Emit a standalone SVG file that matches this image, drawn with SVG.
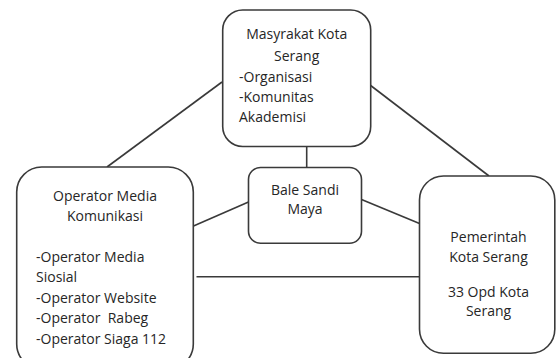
<svg xmlns="http://www.w3.org/2000/svg" width="556" height="358" viewBox="0 0 556 358">
<style>
.box{fill:#fff;stroke:#3a3a3a;stroke-width:1.6}
.ln{stroke:#3a3a3a;stroke-width:1.6;fill:none}
text{font-family:"Open Sans","Noto Sans",sans-serif;font-size:14px;fill:#262626;white-space:pre}
.c{text-anchor:middle}
</style>
<rect width="556" height="358" fill="#fff"/>
<g id="connectors">
<line class="ln" x1="222" y1="82" x2="107" y2="167"/>
<line class="ln" x1="370" y1="85" x2="489" y2="176"/>
<line class="ln" x1="306.7" y1="146" x2="306.7" y2="167.5"/>
<line class="ln" x1="248.5" y1="202" x2="193.5" y2="226"/>
<line class="ln" x1="361.5" y1="199.5" x2="419.5" y2="223.5"/>
<line class="ln" x1="196.5" y1="276.8" x2="419.5" y2="276.8"/>
</g>
<g id="masyarakat">
<rect class="box" x="222.7" y="10" width="148" height="136.5" rx="20"/>
<text class="c" x="296.7" y="39.3">Masyrakat Kota</text>
<text class="c" x="296.7" y="61">Serang</text>
<text x="239" y="81.7">-Organisasi</text>
<text x="239" y="101.7">-Komunitas</text>
<text x="239" y="121.7">Akademisi</text>
</g>
<g id="operator">
<rect class="box" x="16.7" y="167" width="176.6" height="202" rx="25"/>
<text class="c" x="105" y="200.7">Operator Media</text>
<text class="c" x="105" y="220.7">Komunikasi</text>
<text x="36" y="261.7">-Operator Media</text>
<text x="36" y="281.7">Siosial</text>
<text x="36" y="302.7">-Operator Website</text>
<text x="36" y="323.3">-Operator  Rabeg</text>
<text x="36" y="344">-Operator Siaga 112</text>
</g>
<g id="bale">
<rect class="box" x="248.5" y="167.5" width="113" height="75.8" rx="12"/>
<text class="c" x="305" y="195">Bale Sandi</text>
<text class="c" x="305" y="214">Maya</text>
</g>
<g id="pemerintah">
<rect class="box" x="419.5" y="176" width="135.3" height="177.3" rx="24"/>
<text class="c" x="488.5" y="241.7">Pemerintah</text>
<text class="c" x="488.5" y="261.7">Kota Serang</text>
<text class="c" x="488.5" y="296.7">33 Opd Kota</text>
<text class="c" x="488.5" y="315.7">Serang</text>
</g>
</svg>
